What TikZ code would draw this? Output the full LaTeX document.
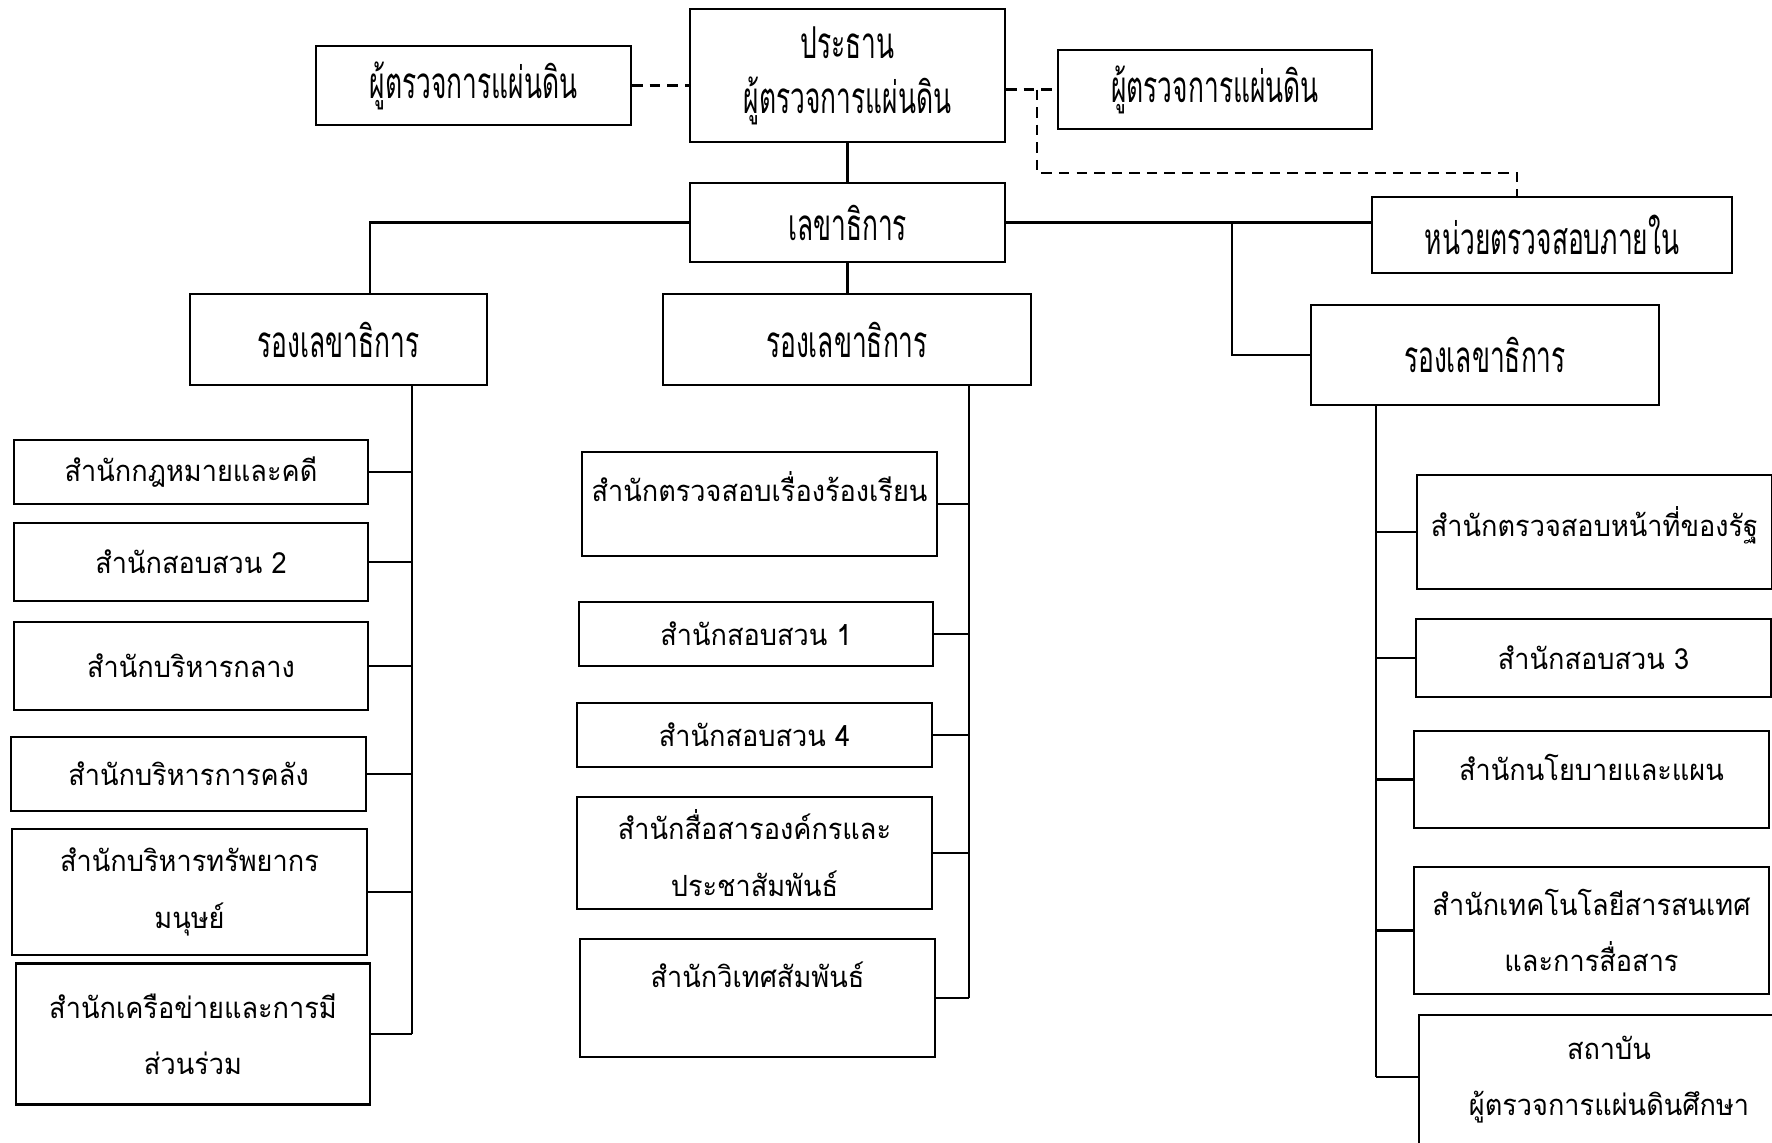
\documentclass[tikz,border=0pt]{standalone}
\usepackage{fontspec}
\newfontfamily\thaifont[Script=Thai,FakeStretch=0.93]{Loma}
\newfontfamily\thaicond[Script=Thai,FakeStretch=0.6]{Loma}
\usetikzlibrary{positioning}

\tikzset{
  unit/.style={draw, line width=0.6pt, inner sep=0pt, align=center,
    font=\thaifont\fontsize{8.3}{16}\selectfont},
  topunit/.style={unit, font=\thaicond\fontsize{12.5}{15.6}\selectfont},
  lift/.style={text height=0.3cm, text depth=#1},
  link/.style={line width=0.6pt},
  dotlink/.style={line width=0.6pt, dash pattern=on 3pt off 2pt},
}

\begin{document}
\begin{tikzpicture}[y=-1cm]
\useasboundingbox (0,0) rectangle (17.72,11.43);
\clip (0,0) rectangle (17.72,11.43);

% top level
\node (pres) at (8.475,0.755) [topunit, minimum width=3.15cm, minimum height=1.33cm] {ประธาน\\ผู้ตรวจการแผ่นดิน};
\node (ombl) at (4.735,0.855) [topunit, minimum width=3.15cm, minimum height=0.79cm] {ผู้ตรวจการแผ่นดิน};
\node (ombr) at (12.15,0.895) [topunit, minimum width=3.14cm, minimum height=0.79cm] {ผู้ตรวจการแผ่นดิน};
\node (sec) at (8.475,2.225) [topunit, minimum width=3.15cm, minimum height=0.79cm] {เลขาธิการ};
\node (audit) at (15.52,2.35) [topunit, minimum width=3.6cm, minimum height=0.76cm] {หน่วยตรวจสอบภายใน};

\node (depl) at (3.385,3.395) [topunit, minimum width=2.97cm, minimum height=0.91cm] {รองเลขาธิการ};
\node (depm) at (8.47,3.395) [topunit, minimum width=3.68cm, minimum height=0.91cm] {รองเลขาธิการ};
\node (depr) at (14.85,3.55) [topunit, minimum width=3.48cm, minimum height=1.0cm] {รองเลขาธิการ};

% left column
\node (l1) at (1.91,4.72) [unit, minimum width=3.54cm, minimum height=0.64cm] {สำนักกฎหมายและคดี};
\node (l2) at (1.91,5.62) [unit, minimum width=3.54cm, minimum height=0.78cm] {สำนักสอบสวน 2};
\node (l3) at (1.91,6.66) [unit, minimum width=3.54cm, minimum height=0.88cm] {สำนักบริหารกลาง};
\node (l4) at (1.885,7.74) [unit, minimum width=3.55cm, minimum height=0.74cm] {สำนักบริหารการคลัง};
\node (l5) at (1.895,8.92) [unit, minimum width=3.55cm, minimum height=1.26cm] {สำนักบริหารทรัพยากร\\มนุษย์};
\node (l6) at (1.93,10.34) [unit, minimum width=3.54cm, minimum height=1.41cm] {สำนักเครือข่ายและการมี\\ส่วนร่วม};

% middle column
\node (m1) at (7.595,5.04) [unit, lift=0.36cm, minimum width=3.55cm, minimum height=1.04cm] {สำนักตรวจสอบเรื่องร้องเรียน};
\node (m2) at (7.56,6.34) [unit, minimum width=3.54cm, minimum height=0.64cm] {สำนักสอบสวน 1};
\node (m3) at (7.545,7.35) [unit, minimum width=3.55cm, minimum height=0.64cm] {สำนักสอบสวน 4};
\node (m4) at (7.545,8.53) [unit, minimum width=3.55cm, minimum height=1.12cm] {สำนักสื่อสารองค์กรและ\\ประชาสัมพันธ์};
\node (m5) at (7.575,9.98) [unit, lift=0.52cm, minimum width=3.55cm, minimum height=1.18cm] {สำนักวิเทศสัมพันธ์};

% right column
\node (r1) at (15.945,5.32) [unit, lift=0.22cm, minimum width=3.55cm, minimum height=1.14cm] {สำนักตรวจสอบหน้าที่ของรัฐ};
\node (r2) at (15.935,6.58) [unit, minimum width=3.55cm, minimum height=0.78cm] {สำนักสอบสวน 3};
\node (r3) at (15.915,7.795) [unit, lift=0.28cm, minimum width=3.55cm, minimum height=0.97cm] {สำนักนโยบายและแผน};
\node (r4) at (15.915,9.305) [unit, minimum width=3.55cm, minimum height=1.27cm] {สำนักเทคโนโลยีสารสนเทศ\\และการสื่อสาร};
\node (r5) at (16.09,10.8) [unit, minimum width=3.8cm, minimum height=1.3cm] {สถาบัน\\ผู้ตรวจการแผ่นดินศึกษา};

% dashed links
\coordinate (tap) at (10.37,0.895);
\coordinate (drop) at (15.17,1.73);
\draw[dotlink] (ombl.east) -- (ombl.east -| pres.west);
\draw[dotlink] (pres.east |- ombr.west) -- (ombr.west);
\draw[dotlink] (tap) |- (drop) -- (drop |- audit.north);

% solid links
\coordinate (lhook) at (3.70,2.94);
\coordinate (rhook) at (12.32,2.24);
\draw[link] (pres) -- (sec);
\draw[link] (sec.east) -- (sec.east -| audit.west);
\draw[link] (sec.west) -| (lhook);
\draw[link] (sec.south) -- (sec.south |- depm.north);
\draw[link] (rhook) |- (depr.west);

% trunks
\coordinate (ltop) at (4.12,3.85);
\coordinate (mtop) at (9.69,3.85);
\coordinate (rtop) at (13.76,4.05);
\coordinate (rbot) at (13.76,10.77);
\draw[link] (ltop) -- (l6.east -| ltop);
\draw[link] (mtop) -- (m5.east -| mtop);
\draw[link] (rtop) -- (rbot);

\foreach \b in {l1,l2,l3,l4,l5,l6}
  \draw[link] (\b.east) -- (\b.east -| ltop);
\foreach \b in {m1,m2,m3,m4,m5}
  \draw[link] (\b.east) -- (\b.east -| mtop);
\foreach \b in {r1,r2,r3,r4}
  \draw[link] (\b.west) -- (\b.west -| rtop);
\draw[link] (rbot) -- (rbot -| r5.west);

\end{tikzpicture}
\end{document}
